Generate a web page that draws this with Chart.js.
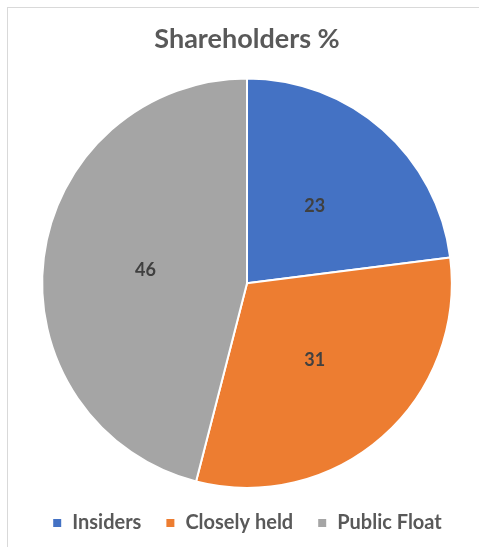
<!DOCTYPE html>
<html>
<head>
<meta charset="utf-8">
<script src="https://cdn.jsdelivr.net/npm/chart.js@4/dist/chart.umd.min.js"></script>
<style>
  html, body { margin: 0; padding: 0; background: #fff; }
  #wrap { position: relative; width: 479px; height: 547px; overflow: hidden; }
  #frame { position: absolute; left: 7px; top: 7px; width: 500px; height: 560px; border: 1px solid #d9d9d9; }
  canvas { position: absolute; left: 0; top: 0; }
</style>
</head>
<body>
<div id="wrap">
  <div id="frame"></div>
  <canvas id="pieChart" width="479" height="547"></canvas>
</div>
<script>
    // Datos del gráfico
    const categories = ['Insiders', 'Closely held', 'Public Float'];
    const holdings = [23, 31, 46];
    const sliceColors = ['#4472C4', '#ED7D31', '#A5A5A5'];

    // Etiquetas de valor dentro de cada porción
    const valueLabels = {
        id: 'valueLabels',
        afterDatasetsDraw(chart) {
            const ctx = chart.ctx;
            const meta = chart.getDatasetMeta(0);
            ctx.save();
            ctx.font = 'bold 18px Lato';
            ctx.fillStyle = '#404040';
            ctx.textAlign = 'center';
            ctx.textBaseline = 'middle';
            meta.data.forEach(function(arc, i) {
                const mid = (arc.startAngle + arc.endAngle) / 2;
                const r = arc.outerRadius * 0.5;
                ctx.fillText(String(holdings[i]), arc.x + Math.cos(mid) * r, arc.y + Math.sin(mid) * r);
            });
            ctx.restore();
        }
    };

    new Chart(document.getElementById('pieChart').getContext('2d'), {
        type: 'pie',
        data: {
            labels: categories,
            datasets: [{
                data: holdings,
                backgroundColor: sliceColors,
                borderColor: '#fff',
                borderWidth: 2
            }]
        },
        options: {
            responsive: false,
            animation: false,
            layout: {
                padding: { left: 15, right: 0, top: 0, bottom: 4 }
            },
            plugins: {
                title: {
                    display: true,
                    text: 'Shareholders %',
                    color: '#595959',
                    font: { family: 'Lato', size: 27, weight: 'bold', lineHeight: 1.2 },
                    padding: { top: 23, bottom: 22 }
                },
                legend: {
                    position: 'bottom',
                    labels: {
                        color: '#595959',
                        boxWidth: 10,
                        boxHeight: 10,
                        padding: 24,
                        font: { family: 'Lato', size: 20, weight: 'bold' }
                    }
                },
                tooltip: { enabled: false }
            }
        },
        plugins: [valueLabels]
    });
</script>
</body>
</html>
